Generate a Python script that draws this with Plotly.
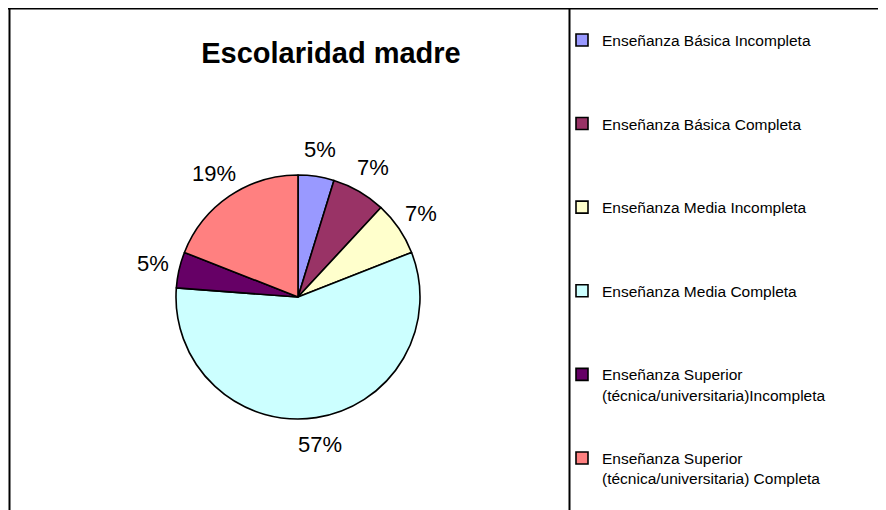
import math
import plotly.graph_objects as go

categories = [
    "Enseñanza Básica Incompleta",
    "Enseñanza Básica Completa",
    "Enseñanza Media Incompleta",
    "Enseñanza Media Completa",
    "Enseñanza Superior<br>(técnica/universitaria)Incompleta",
    "Enseñanza Superior<br>(técnica/universitaria) Completa",
]
counts = [2, 3, 3, 24, 2, 8]
colors = ["#9999FF", "#993366", "#FFFFCC", "#CCFFFF", "#660066", "#FF8080"]
title_text = "Escolaridad madre"

W, H = 886, 510
OFF = 8  # page body margin of the browser
LINES_PER_ITEM = 4
FONT = "Arial, Liberation Sans"


def px(x):
    return (x - OFF) / W


def py(y):
    return 1 - (y - OFF) / H


def pad(label, last):
    n = label.count("<br>") + 1
    if last:
        return label
    return label + "<br> " * (LINES_PER_ITEM - n)


legend_labels = [pad(c, i == len(categories) - 1) for i, c in enumerate(categories)]

# pie geometry (screen pixels)
cx, cy, r = 298, 297, 122
r_label = 149

fig = go.Figure(
    go.Pie(
        labels=legend_labels,
        values=counts,
        sort=False,
        direction="clockwise",
        rotation=0,
        marker=dict(colors=colors, line=dict(color="black", width=1.6)),
        textinfo="none",
        domain=dict(x=[px(cx - r), px(cx + r)], y=[py(cy + r), py(cy - r)]),
        hoverinfo="label+percent",
    )
)

# percentage labels placed on the bisector of each slice, derived from the data
total = sum(counts)
cum = 0
for v in counts:
    mid = (cum + v / 2) / total * 2 * math.pi
    cum += v
    lx = cx + r_label * math.sin(mid)
    ly = cy - r_label * math.cos(mid)
    fig.add_annotation(
        x=px(lx), y=py(ly), xref="paper", yref="paper",
        text=f"{round(100 * v / total)}%", showarrow=False,
        xanchor="center", yanchor="middle",
        font=dict(family=FONT, size=22, color="black"),
    )

line = dict(color="black", width=2)
fig.add_shape(type="line", xref="paper", yref="paper", x0=0, x1=1.02, y0=py(8.5), y1=py(8.5), line=line)
fig.add_shape(type="line", xref="paper", yref="paper", x0=px(9.5), x1=px(9.5), y0=-0.05, y1=py(8.5), line=line)
fig.add_shape(type="line", xref="paper", yref="paper", x0=px(569.5), x1=px(569.5), y0=-0.05, y1=py(8.5), line=line)

fig.update_layout(
    width=W,
    height=H,
    margin=dict(l=0, r=0, t=0, b=0),
    paper_bgcolor="white",
    plot_bgcolor="white",
    font=dict(family=FONT, color="black"),
    title=dict(
        text="<b>" + title_text + "</b>",
        x=px(331),
        xanchor="center",
        y=py(52.5),
        yanchor="middle",
        font=dict(size=29, family=FONT, color="black"),
    ),
    showlegend=True,
    legend=dict(
        x=px(562),
        xanchor="left",
        y=py(23.4),
        yanchor="top",
        valign="top",
        font=dict(size=15.5, family=FONT, color="black"),
        bgcolor="rgba(0,0,0,0)",
        traceorder="normal",
    ),
)

fig.write_html("out.html")
